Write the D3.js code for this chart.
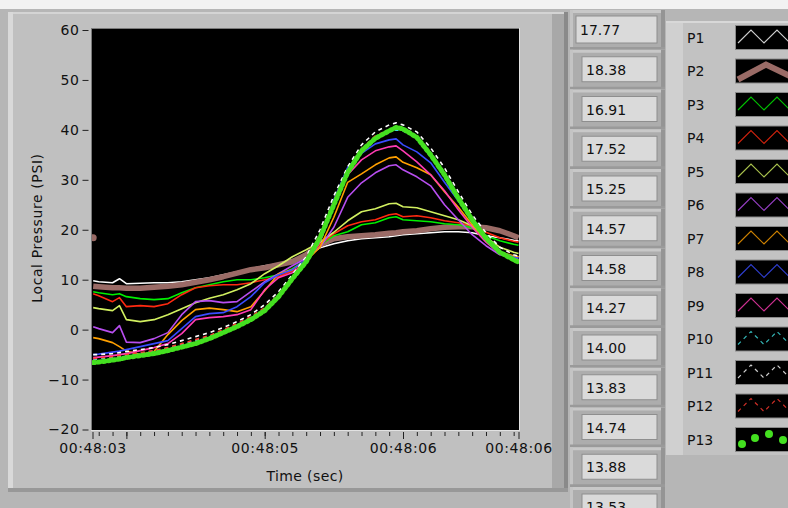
<!DOCTYPE html>
<html>
<head>
<meta charset="utf-8" />
<script src="https://d3js.org/d3.v7.min.js"></script>
<style>
body { margin: 0; background: #b6b6b6; overflow: hidden; }
svg text { font-family: "DejaVu Sans", sans-serif; fill: #111; }
.axis path.domain { display: none; }
.axis line { stroke: #222; }
.axis text { font-size: 14px; letter-spacing: 0.6px; fill: #111; }
</style>
</head>
<body>
<script>
// sample times, seconds after 00:48:00
var times = [3.76, 3.8, 3.9, 3.95, 4.0, 4.1, 4.2, 4.3, 4.4, 4.5,
             4.6, 4.7, 4.8, 4.9, 5.0, 5.1, 5.2, 5.3, 5.4, 5.5,
             5.6, 5.7, 5.8, 5.9, 5.95, 6.0, 6.1, 6.2, 6.3, 6.4,
             6.5, 6.6, 6.7, 6.8, 6.835];

var p1  = [9.8, 9.6, 9.4, 10.2, 9.2, 9.3, 9.4, 9.4, 9.6, 10.0, 10.4, 11.0, 11.6, 12.2, 12.8, 13.2, 14.0, 15.0, 16.4, 17.2, 17.8, 18.2, 18.4, 18.6, 18.8, 19.0, 19.2, 19.4, 19.6, 19.6, 19.4, 18.8, 18.4, 17.9, 17.77];
var p2  = [8.7, 8.6, 8.4, 8.4, 8.3, 8.3, 8.5, 8.7, 9.0, 9.5, 10.0, 10.6, 11.3, 12.0, 12.4, 13.0, 13.6, 15.0, 17.0, 18.2, 18.6, 18.8, 19.0, 19.3, 19.4, 19.6, 19.8, 20.2, 20.5, 20.6, 20.6, 20.4, 19.8, 18.8, 18.38];
var p3  = [7.6, 7.4, 7.0, 7.2, 6.6, 6.2, 6.0, 6.2, 7.4, 8.4, 9.0, 9.6, 10.0, 10.0, 10.4, 11.0, 12.2, 14.0, 17.0, 18.8, 19.6, 21.0, 21.4, 22.4, 22.6, 22.0, 21.8, 21.6, 21.2, 21.0, 20.4, 18.8, 17.8, 17.1, 16.91];
var p4  = [7.2, 6.8, 5.6, 6.4, 4.6, 4.8, 4.6, 5.2, 7.0, 8.4, 8.8, 9.0, 9.0, 9.4, 10.0, 10.6, 11.8, 14.0, 17.0, 19.2, 20.8, 21.6, 22.0, 23.0, 23.2, 22.6, 22.8, 22.4, 21.8, 21.4, 20.8, 19.5, 18.4, 17.7, 17.52];
var p5  = [4.4, 4.2, 3.8, 4.8, 2.0, 1.6, 2.0, 3.0, 4.2, 5.4, 6.3, 7.0, 8.0, 9.2, 11.2, 12.8, 14.6, 16.0, 17.5, 19.5, 21.8, 23.6, 24.2, 25.2, 25.3, 24.6, 24.4, 23.6, 22.8, 22.0, 20.8, 18.5, 16.5, 15.5, 15.25];
var p6  = [0.6, 0.2, -0.6, 0.8, -2.5, -2.6, -1.8, -0.6, 3.0, 5.6, 5.8, 5.4, 5.6, 7.6, 9.6, 11.2, 12.8, 14.3, 16.5, 20.5, 26.5, 29.4, 31.4, 32.8, 33.0, 32.0, 30.6, 28.8, 25.0, 22.0, 19.0, 16.8, 15.0, 14.6, 14.57];
var p7  = [-1.6, -1.8, -2.6, -3.4, -4.3, -5.0, -4.4, -1.0, 1.8, 4.0, 4.3, 4.0, 3.6, 4.6, 7.8, 11.2, 12.0, 13.8, 16.5, 22.5, 29.5, 31.2, 33.0, 34.4, 34.6, 33.5, 32.4, 31.0, 27.6, 24.5, 21.0, 17.8, 15.5, 14.8, 14.58];
var p8  = [-5.0, -4.9, -4.5, -4.3, -4.0, -3.4, -2.8, -2.2, 0.2, 2.6, 3.2, 3.4, 4.6, 6.6, 9.4, 11.0, 12.0, 14.0, 18.5, 26.0, 32.5, 35.3, 37.2, 38.0, 38.2, 37.0, 35.6, 33.4, 29.5, 25.8, 21.8, 18.2, 15.6, 14.5, 14.27];
var p9  = [-5.6, -5.5, -5.2, -5.0, -4.8, -4.2, -3.6, -2.8, -0.8, 2.0, 2.4, 2.6, 3.0, 4.0, 8.0, 10.4, 11.4, 13.5, 17.5, 25.0, 31.0, 34.0, 35.8, 36.6, 36.8, 35.8, 33.6, 31.0, 27.8, 24.0, 20.5, 17.5, 15.2, 14.2, 14.00];
var p10 = [-6.0, -5.9, -5.6, -5.4, -5.1, -4.7, -4.3, -3.7, -3.0, -2.2, -1.3, -0.2, 1.0, 2.4, 4.2, 6.8, 10.2, 13.8, 18.8, 25.6, 31.6, 36.0, 38.6, 39.8, 40.0, 39.8, 38.4, 35.2, 31.0, 26.4, 21.8, 18.2, 15.4, 14.0, 13.83];
var p11 = [-5.0, -5.0, -4.8, -4.6, -4.4, -4.0, -3.6, -3.0, -2.2, -1.4, -0.6, 0.4, 1.6, 3.0, 5.0, 7.6, 11.0, 14.6, 20.0, 26.8, 32.6, 37.0, 39.6, 41.0, 41.4, 41.0, 39.6, 36.4, 32.4, 27.6, 23.0, 19.4, 16.5, 15.0, 14.74];
var p12 = [-5.8, -5.7, -5.4, -5.2, -5.0, -4.6, -4.2, -3.6, -2.8, -2.0, -1.2, 0.0, 1.2, 2.6, 4.4, 7.0, 10.4, 14.0, 19.0, 25.8, 31.8, 36.2, 38.8, 40.0, 40.2, 40.0, 38.6, 35.4, 31.2, 26.6, 22.0, 18.4, 15.6, 14.1, 13.88];
var p13 = [-6.6, -6.5, -6.1, -5.9, -5.6, -5.2, -4.8, -4.2, -3.5, -2.8, -1.8, -0.6, 0.6, 2.0, 3.8, 6.6, 10.2, 13.6, 18.4, 25.0, 31.5, 35.8, 38.3, 39.8, 40.5, 40.2, 38.5, 35.0, 31.0, 26.3, 22.0, 18.3, 15.5, 14.0, 13.53];

// lone P2 point at the left edge
var p2Marker = [[3.76, 18.4]];

var seriesNames = ["P1", "P2", "P3", "P4", "P5", "P6", "P7", "P8", "P9", "P10", "P11", "P12", "P13"];
var currentValues = ["17.77", "18.38", "16.91", "17.52", "15.25", "14.57", "14.58", "14.27", "14.00", "13.83", "14.74", "13.88", "13.53"];

var yTickValues = [-20, -10, 0, 10, 20, 30, 40, 50, 60];
var xLabelTimes = [3.755, 5, 6, 6.835];
var xTickLabels = ["00:48:03", "00:48:05", "00:48:06", "00:48:06"];
var xMajorTimes = [3.755, 4, 5, 6, 6.835];

var seriesData = [p1, p2, p3, p4, p5, p6, p7, p8, p9, p10, p11, p12, p13];

// plot styles
var colors = ["#ffffff", "#9a6b66", "#00f000", "#ff2a10", "#d2f060", "#b84ef0", "#ffa000",
              "#3a4cff", "#ff3cb4", "#40e0e0", "#ffffff", "#ff3a30", "#44e020"];
var widths = [1.6, 5.5, 1.6, 1.6, 1.6, 1.6, 1.6, 1.6, 1.6, 1.6, 1.6, 1.6, 5];
var dashes = [null, null, null, null, null, null, null, null, null, "4,4", "4,4", "4,4", "2,3"];

var W = 788, H = 508;
var svg = d3.select("body").append("svg").attr("width", W).attr("height", H);

// panel background
svg.append("rect").attr("width", W).attr("height", H).attr("fill", "#b6b6b6");
svg.append("rect").attr("width", W).attr("height", 9).attr("fill", "#f2f2f2");

// graph frame (raised)
var frame = svg.append("g");
frame.append("rect").attr("x", 8).attr("y", 12).attr("width", 560).attr("height", 480).attr("fill", "#c0c0c0");
frame.append("rect").attr("x", 8).attr("y", 12).attr("width", 560).attr("height", 2).attr("fill", "#d4d4d4");
frame.append("rect").attr("x", 8).attr("y", 12).attr("width", 5).attr("height", 480).attr("fill", "#d9d9d9");
frame.append("rect").attr("x", 552).attr("y", 14).attr("width", 16).attr("height", 478).attr("fill", "#a8a8a8");
frame.append("rect").attr("x", 564).attr("y", 12).attr("width", 4).attr("height", 480).attr("fill", "#8a8a8a");
frame.append("rect").attr("x", 8).attr("y", 488).attr("width", 560).attr("height", 4).attr("fill", "#989898");

// plot area
var plot = {x: 92, y: 29, w: 427, h: 401};
svg.append("rect").attr("x", plot.x - 1).attr("y", plot.y - 1).attr("width", plot.w + 2).attr("height", plot.h + 2)
  .attr("fill", "#e2e2e2");
svg.append("rect").attr("x", plot.x - 1).attr("y", plot.y - 1).attr("width", plot.w + 1).attr("height", plot.h + 1)
  .attr("fill", "#7a7a7a");
svg.append("rect").attr("x", plot.x).attr("y", plot.y).attr("width", plot.w).attr("height", plot.h).attr("fill", "#000");

svg.append("clipPath").attr("id", "clip").append("rect")
  .attr("x", plot.x).attr("y", plot.y).attr("width", plot.w).attr("height", plot.h);

var x = d3.scaleLinear().domain([3.755, 6.835]).range([92.5, 518.5]);
var y = d3.scaleLinear().domain([-20, 60]).range([429.5, 30]);

// y axis
svg.append("g").attr("class", "axis")
  .attr("transform", "translate(88.5,0)")
  .call(d3.axisLeft(y).tickValues(yTickValues).tickSize(6).tickPadding(3).tickFormat(d3.format("d")));

// x axis: minor, major, labels
var minorTimes = d3.range(38, 69).map(function(d) { return d / 10; });
svg.append("g").attr("class", "axis")
  .attr("transform", "translate(0,432)")
  .call(d3.axisBottom(x).tickValues(minorTimes).tickSize(4).tickFormat(""));
svg.append("g").attr("class", "axis")
  .attr("transform", "translate(0,432)")
  .call(d3.axisBottom(x).tickValues(xMajorTimes).tickSize(7).tickFormat(""));
svg.append("g").attr("class", "axis")
  .attr("transform", "translate(0,443)")
  .call(d3.axisBottom(x).tickValues(xLabelTimes).tickSize(0).tickPadding(0)
    .tickFormat(function(d, i) { return xTickLabels[i]; }));

// axis titles
svg.append("text").attr("x", 305).attr("y", 481).attr("text-anchor", "middle")
  .style("font-size", "14px").style("letter-spacing", "0.4px").text("Time (sec)");
svg.append("text").attr("transform", "translate(42,228) rotate(-90)").attr("text-anchor", "middle")
  .style("font-size", "14px").style("letter-spacing", "0.6px").text("Local Pressure (PSI)");

// series
var line = d3.line()
  .x(function(d, i) { return x(times[i]); })
  .y(function(d) { return y(d); });

var g = svg.append("g").attr("clip-path", "url(#clip)");
g.selectAll(".series")
  .data(seriesData)
  .enter().append("path")
    .attr("class", "series")
    .attr("fill", "none")
    .attr("stroke", function(d, i) { return colors[i]; })
    .attr("stroke-width", function(d, i) { return widths[i]; })
    .attr("stroke-dasharray", function(d, i) { return dashes[i]; })
    .attr("stroke-linecap", function(d, i) { return i == 12 ? "round" : "butt"; })
    .attr("stroke-linejoin", "round")
    .attr("d", line);

g.selectAll(".marker")
  .data(p2Marker)
  .enter().append("circle")
    .attr("class", "marker")
    .attr("cx", function(d) { return x(d[0]); })
    .attr("cy", function(d) { return y(d[1]); })
    .attr("r", 3.5)
    .attr("fill", colors[1]);

// value column
var cellTop = 10, cellStep = 39.75;
var cells = svg.append("g").selectAll(".cell")
  .data(currentValues)
  .enter().append("g")
    .attr("class", "cell")
    .attr("transform", function(d, i) { return "translate(0," + (cellTop + i * cellStep) + ")"; });
cells.append("rect").attr("x", 570).attr("y", 0).attr("width", 95).attr("height", 40).attr("fill", "#adadad");
cells.append("rect").attr("x", 570).attr("y", 0).attr("width", 95).attr("height", 3).attr("fill", "#c8c8c8");
cells.append("rect").attr("x", 570).attr("y", 0).attr("width", 3).attr("height", 40).attr("fill", "#c4c4c4");
cells.append("rect").attr("x", 661).attr("y", 0).attr("width", 4).attr("height", 40).attr("fill", "#959595");
cells.append("rect").attr("x", 570).attr("y", 37).attr("width", 95).attr("height", 3).attr("fill", "#9a9a9a");
cells.append("rect")
  .attr("x", function(d, i) { return i == 0 ? 576 : 582; })
  .attr("y", function(d, i) { return i == 0 ? 6 : 7; })
  .attr("width", function(d, i) { return i == 0 ? 81 : 75; })
  .attr("height", function(d, i) { return i == 0 ? 27 : 25; })
  .attr("fill", "#dadada").attr("stroke", "#8e8e8e").attr("stroke-width", 1);
cells.append("text")
  .attr("x", function(d, i) { return i == 0 ? 580 : 586; })
  .attr("y", 20)
  .attr("dy", "0.36em")
  .style("font-size", "14px")
  .text(function(d) { return d; });

// legend
var legend = svg.append("g");
legend.append("rect").attr("x", 666).attr("y", 21).attr("width", 130).attr("height", 434).attr("fill", "#c2c2c2");
legend.append("rect").attr("x", 666).attr("y", 21).attr("width", 17).attr("height", 434).attr("fill", "#d0d0d0");
legend.append("rect").attr("x", 666).attr("y", 21).attr("width", 130).attr("height", 2).attr("fill", "#d8d8d8");

var rowTop = 25, rowStep = 33.5;
var zig = [[3, 18], [16, 5], [29, 18], [42, 5], [55, 18]];
var chevron = [[3, 21], [31, 6], [60, 20]];
var dots = [[7, 17], [20, 11], [34, 7], [48, 13]];

var rows = legend.selectAll(".row")
  .data(seriesNames)
  .enter().append("g")
    .attr("class", "row")
    .attr("transform", function(d, i) { return "translate(0," + (rowTop + i * rowStep) + ")"; });
rows.append("text").attr("x", 687).attr("y", 12.5).attr("dy", "0.36em")
  .style("font-size", "14px").text(function(d) { return d; });
rows.append("rect").attr("x", 735.5).attr("y", 0.5).attr("width", 60).attr("height", 24)
  .attr("fill", "#000").attr("stroke", "#8a8a8a");

var swLine = d3.line().x(function(d) { return 735 + d[0]; }).y(function(d) { return d[1]; });
rows.each(function(d, i) {
  var r = d3.select(this);
  if (i == 12) {
    r.selectAll("circle").data(dots).enter().append("circle")
      .attr("cx", function(p) { return 735 + p[0]; }).attr("cy", function(p) { return p[1]; })
      .attr("r", 4).attr("fill", colors[i]);
  } else {
    r.append("path")
      .attr("d", swLine(i == 1 ? chevron : zig))
      .attr("fill", "none")
      .attr("stroke", colors[i])
      .attr("stroke-opacity", i == 1 ? 1 : 0.8)
      .attr("stroke-width", i == 1 ? 6 : 1.2)
      .attr("stroke-dasharray", dashes[i]);
  }
});
</script>
</body>
</html>
